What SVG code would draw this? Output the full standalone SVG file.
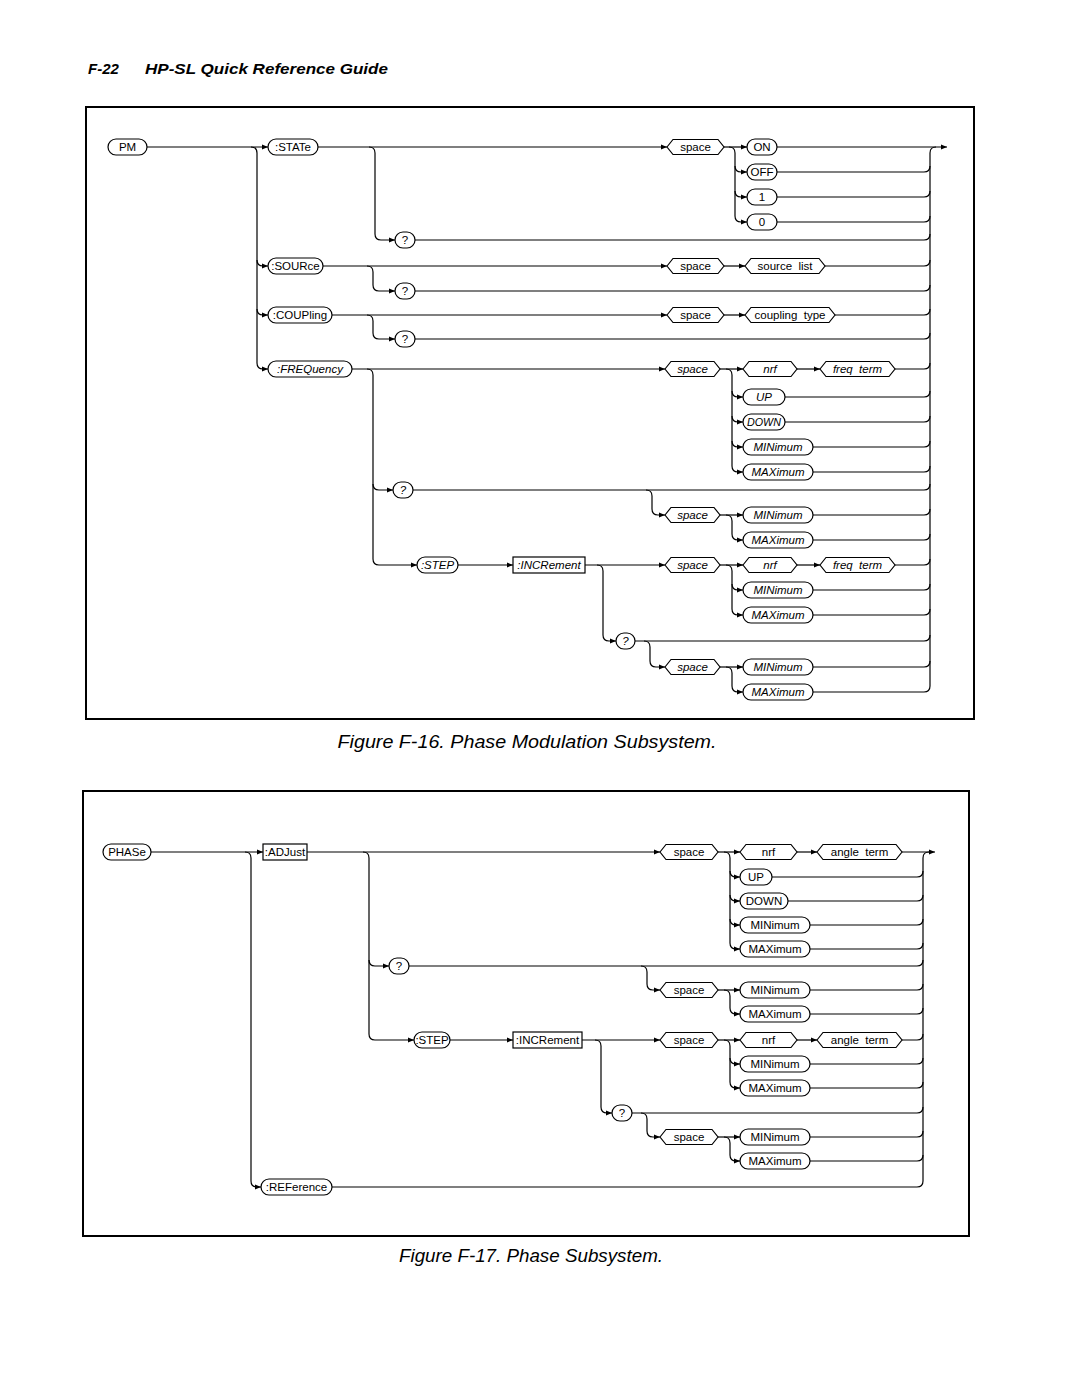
<svg xmlns="http://www.w3.org/2000/svg" width="1080" height="1397" viewBox="0 0 1080 1397">
<style>
.ln{fill:none;stroke:#000;stroke-width:1.2}
.nd{fill:#fff;stroke:#000;stroke-width:1.2}
.fr{fill:none;stroke:#000;stroke-width:2}
text{font-family:"Liberation Sans",Arial,sans-serif;fill:#000}
.t{font-size:11.5px;text-anchor:middle}
.i{font-style:italic}
.cap{font-size:18px;font-style:italic;text-anchor:middle}
.hd{font-size:15px;font-weight:bold;font-style:italic}
</style>
<defs>
<marker id="a" markerWidth="6" markerHeight="6" refX="6" refY="3" orient="auto" markerUnits="userSpaceOnUse"><path d="M0,0.6 L6,3 L0,5.4z" fill="#000"/></marker>
</defs>
<rect width="1080" height="1397" fill="#fff"/>
<text class="hd" x="88" y="74">F-22</text>
<text class="hd" x="145" y="74" textLength="243" lengthAdjust="spacingAndGlyphs">HP-SL Quick Reference Guide</text>
<rect class="fr" x="86" y="107" width="888" height="612"/>
<text class="cap" x="527" y="748" textLength="379" lengthAdjust="spacingAndGlyphs">Figure F-16. Phase Modulation Subsystem.</text>
<rect class="fr" x="83" y="791" width="886" height="445"/>
<text class="cap" x="531" y="1262" textLength="264" lengthAdjust="spacingAndGlyphs">Figure F-17. Phase Subsystem.</text>

<g id="connectors" class="ln">
<!-- Figure 1 -->
<path d="M147,147 L268,147" marker-end="url(#a)"/>
<path d="M251,147 Q257,147 257,153 L257,363 Q257,369 263,369 L268,369" marker-end="url(#a)"/>
<path d="M257,260 Q257,266 263,266 L268,266" marker-end="url(#a)"/>
<path d="M257,309 Q257,315 263,315 L268,315" marker-end="url(#a)"/>
<path d="M318,147 L667,147" marker-end="url(#a)"/>
<path d="M369,147 Q375,147 375,153 L375,234 Q375,240 381,240 L395,240" marker-end="url(#a)"/>
<path d="M415,240 L924,240 Q930,240 930,234"/>
<path d="M724,147 L747,147" marker-end="url(#a)"/>
<path d="M777,147 L947,147" marker-end="url(#a)"/>
<path d="M729,147 Q735,147 735,153 L735,216 Q735,222 741,222 L747,222" marker-end="url(#a)"/>
<path d="M735,166 Q735,172 741,172 L747,172" marker-end="url(#a)"/>
<path d="M735,191 Q735,197 741,197 L747,197" marker-end="url(#a)"/>
<path d="M777,172 L924,172 Q930,172 930,166"/>
<path d="M777,197 L924,197 Q930,197 930,191"/>
<path d="M777,222 L924,222 Q930,222 930,216"/>
<path d="M930,686 L930,153 Q930,147 936,147"/>
<path d="M323,266 L667,266" marker-end="url(#a)"/>
<path d="M367,266 Q373,266 373,272 L373,285 Q373,291 379,291 L395,291" marker-end="url(#a)"/>
<path d="M415,291 L924,291 Q930,291 930,285"/>
<path d="M724,266 L745,266" marker-end="url(#a)"/>
<path d="M825,266 L924,266 Q930,266 930,260"/>
<path d="M332,315 L667,315" marker-end="url(#a)"/>
<path d="M367,315 Q373,315 373,321 L373,333 Q373,339 379,339 L395,339" marker-end="url(#a)"/>
<path d="M415,339 L924,339 Q930,339 930,333"/>
<path d="M724,315 L745,315" marker-end="url(#a)"/>
<path d="M835,315 L924,315 Q930,315 930,309"/>
<path d="M352,369 L665,369" marker-end="url(#a)"/>
<path d="M367,369 Q373,369 373,375 L373,559 Q373,565 379,565 L417,565" marker-end="url(#a)"/>
<path d="M373,484 Q373,490 379,490 L393,490" marker-end="url(#a)"/>
<path d="M720,369 L743,369" marker-end="url(#a)"/>
<path d="M797,369 L820,369" marker-end="url(#a)"/>
<path d="M895,369 L924,369 Q930,369 930,363"/>
<path d="M726,369 Q732,369 732,375 L732,466 Q732,472 738,472 L743,472" marker-end="url(#a)"/>
<path d="M732,391 Q732,397 738,397 L743,397" marker-end="url(#a)"/>
<path d="M732,416 Q732,422 738,422 L743,422" marker-end="url(#a)"/>
<path d="M732,441 Q732,447 738,447 L743,447" marker-end="url(#a)"/>
<path d="M785,397 L924,397 Q930,397 930,391"/>
<path d="M785,422 L924,422 Q930,422 930,416"/>
<path d="M813,447 L924,447 Q930,447 930,441"/>
<path d="M813,472 L924,472 Q930,472 930,466"/>
<path d="M413,490 L924,490 Q930,490 930,484"/>
<path d="M646,490 Q652,490 652,496 L652,509 Q652,515 658,515 L665,515" marker-end="url(#a)"/>
<path d="M720,515 L743,515" marker-end="url(#a)"/>
<path d="M726,515 Q732,515 732,521 L732,534 Q732,540 738,540 L743,540" marker-end="url(#a)"/>
<path d="M813,515 L924,515 Q930,515 930,509"/>
<path d="M813,540 L924,540 Q930,540 930,534"/>
<path d="M458,565 L513,565" marker-end="url(#a)"/>
<path d="M585,565 L665,565" marker-end="url(#a)"/>
<path d="M597,565 Q603,565 603,571 L603,635 Q603,641 609,641 L616,641" marker-end="url(#a)"/>
<path d="M720,565 L743,565" marker-end="url(#a)"/>
<path d="M797,565 L820,565" marker-end="url(#a)"/>
<path d="M895,565 L924,565 Q930,565 930,559"/>
<path d="M726,565 Q732,565 732,571 L732,609 Q732,615 738,615 L743,615" marker-end="url(#a)"/>
<path d="M732,584 Q732,590 738,590 L743,590" marker-end="url(#a)"/>
<path d="M813,590 L924,590 Q930,590 930,584"/>
<path d="M813,615 L924,615 Q930,615 930,609"/>
<path d="M635,641 L924,641 Q930,641 930,635"/>
<path d="M644,641 Q650,641 650,647 L650,661 Q650,667 656,667 L665,667" marker-end="url(#a)"/>
<path d="M720,667 L743,667" marker-end="url(#a)"/>
<path d="M726,667 Q732,667 732,673 L732,686 Q732,692 738,692 L743,692" marker-end="url(#a)"/>
<path d="M813,667 L924,667 Q930,667 930,661"/>
<path d="M813,692 L924,692 Q930,692 930,686"/>
<!-- Figure 2 -->
<path d="M151,852 L263,852" marker-end="url(#a)"/>
<path d="M245,852 Q251,852 251,858 L251,1181 Q251,1187 257,1187 L261,1187" marker-end="url(#a)"/>
<path d="M332,1187 L917,1187 Q923,1187 923,1181"/>
<path d="M923,1181 L923,858 Q923,852 929,852"/>
<path d="M902,852 L935,852" marker-end="url(#a)"/>
<path d="M307,852 L660,852" marker-end="url(#a)"/>
<path d="M363,852 Q369,852 369,858 L369,1034 Q369,1040 375,1040 L414,1040" marker-end="url(#a)"/>
<path d="M369,960 Q369,966 375,966 L389,966" marker-end="url(#a)"/>
<path d="M718,852 L740,852" marker-end="url(#a)"/>
<path d="M797,852 L817,852" marker-end="url(#a)"/>
<path d="M724,852 Q730,852 730,858 L730,943 Q730,949 736,949 L740,949" marker-end="url(#a)"/>
<path d="M730,871 Q730,877 736,877 L740,877" marker-end="url(#a)"/>
<path d="M730,895 Q730,901 736,901 L740,901" marker-end="url(#a)"/>
<path d="M730,919 Q730,925 736,925 L740,925" marker-end="url(#a)"/>
<path d="M772,877 L917,877 Q923,877 923,871"/>
<path d="M788,901 L917,901 Q923,901 923,895"/>
<path d="M810,925 L917,925 Q923,925 923,919"/>
<path d="M810,949 L917,949 Q923,949 923,943"/>
<path d="M409,966 L917,966 Q923,966 923,960"/>
<path d="M641,966 Q647,966 647,972 L647,984 Q647,990 653,990 L660,990" marker-end="url(#a)"/>
<path d="M718,990 L740,990" marker-end="url(#a)"/>
<path d="M724,990 Q730,990 730,996 L730,1008 Q730,1014 736,1014 L740,1014" marker-end="url(#a)"/>
<path d="M810,990 L917,990 Q923,990 923,984"/>
<path d="M810,1014 L917,1014 Q923,1014 923,1008"/>
<path d="M450,1040 L513,1040" marker-end="url(#a)"/>
<path d="M582,1040 L660,1040" marker-end="url(#a)"/>
<path d="M595,1040 Q601,1040 601,1046 L601,1107 Q601,1113 607,1113 L612,1113" marker-end="url(#a)"/>
<path d="M718,1040 L740,1040" marker-end="url(#a)"/>
<path d="M797,1040 L817,1040" marker-end="url(#a)"/>
<path d="M902,1040 L917,1040 Q923,1040 923,1034"/>
<path d="M724,1040 Q730,1040 730,1046 L730,1082 Q730,1088 736,1088 L740,1088" marker-end="url(#a)"/>
<path d="M730,1058 Q730,1064 736,1064 L740,1064" marker-end="url(#a)"/>
<path d="M810,1064 L917,1064 Q923,1064 923,1058"/>
<path d="M810,1088 L917,1088 Q923,1088 923,1082"/>
<path d="M632,1113 L917,1113 Q923,1113 923,1107"/>
<path d="M641,1113 Q647,1113 647,1119 L647,1131 Q647,1137 653,1137 L660,1137" marker-end="url(#a)"/>
<path d="M718,1137 L740,1137" marker-end="url(#a)"/>
<path d="M724,1137 Q730,1137 730,1143 L730,1155 Q730,1161 736,1161 L740,1161" marker-end="url(#a)"/>
<path d="M810,1137 L917,1137 Q923,1137 923,1131"/>
<path d="M810,1161 L917,1161 Q923,1161 923,1155"/>
</g>

<!-- Figure 1 nodes -->
<g id="f1-pm"><rect class="nd" x="108" y="139" width="39" height="16" rx="8"/><text class="t" x="127.5" y="151">PM</text></g>
<g id="f1-state"><rect class="nd" x="268" y="139" width="50" height="16" rx="8"/><text class="t" x="293" y="151">:STATe</text></g>
<g id="f1-state-q"><rect class="nd" x="395" y="232" width="20" height="16" rx="8"/><text class="t" x="405" y="244">?</text></g>
<g id="f1-state-space"><polygon class="nd" points="667,147 673,139.5 718,139.5 724,147 718,154.5 673,154.5"/><text class="t" x="695.5" y="151">space</text></g>
<g id="f1-on"><rect class="nd" x="747" y="139" width="30" height="16" rx="8"/><text class="t" x="762" y="151">ON</text></g>
<g id="f1-off"><rect class="nd" x="747" y="164" width="30" height="16" rx="8"/><text class="t" x="762" y="176">OFF</text></g>
<g id="f1-one"><rect class="nd" x="747" y="189" width="30" height="16" rx="8"/><text class="t" x="762" y="201">1</text></g>
<g id="f1-zero"><rect class="nd" x="747" y="214" width="30" height="16" rx="8"/><text class="t" x="762" y="226">0</text></g>

<g id="f1-source"><rect class="nd" x="268" y="258" width="55" height="16" rx="8"/><text class="t" x="295.5" y="270">:SOURce</text></g>
<g id="f1-source-q"><rect class="nd" x="395" y="283" width="20" height="16" rx="8"/><text class="t" x="405" y="295">?</text></g>
<g id="f1-source-space"><polygon class="nd" points="667,266 673,258.5 718,258.5 724,266 718,273.5 673,273.5"/><text class="t" x="695.5" y="270">space</text></g>
<g id="f1-source-list"><polygon class="nd" points="745,266 751,258.5 819,258.5 825,266 819,273.5 751,273.5"/><text class="t" x="785" y="270" xml:space="preserve">source  list</text></g>

<g id="f1-coupling"><rect class="nd" x="268" y="307" width="64" height="16" rx="8"/><text class="t" x="300" y="319">:COUPling</text></g>
<g id="f1-coupling-q"><rect class="nd" x="395" y="331" width="20" height="16" rx="8"/><text class="t" x="405" y="343">?</text></g>
<g id="f1-coupling-space"><polygon class="nd" points="667,315 673,307.5 718,307.5 724,315 718,322.5 673,322.5"/><text class="t" x="695.5" y="319">space</text></g>
<g id="f1-coupling-type"><polygon class="nd" points="745,315 751,307.5 829,307.5 835,315 829,322.5 751,322.5"/><text class="t" x="790" y="319" xml:space="preserve">coupling  type</text></g>

<g id="f1-freq"><rect class="nd" x="268" y="361" width="84" height="16" rx="8"/><text class="t i" x="310" y="373">:FREQuency</text></g>
<g id="f1-freq-space"><polygon class="nd" points="665,369 671,361.5 714,361.5 720,369 714,376.5 671,376.5"/><text class="t i" x="692.5" y="373">space</text></g>
<g id="f1-freq-nrf"><polygon class="nd" points="743,369 749,361.5 791,361.5 797,369 791,376.5 749,376.5"/><text class="t i" x="770" y="373">nrf</text></g>
<g id="f1-freq-term"><polygon class="nd" points="820,369 826,361.5 889,361.5 895,369 889,376.5 826,376.5"/><text class="t i" x="857.5" y="373" xml:space="preserve">freq  term</text></g>
<g id="f1-up"><rect class="nd" x="743" y="389" width="42" height="16" rx="8"/><text class="t i" x="764" y="401">UP</text></g>
<g id="f1-down"><rect class="nd" x="743" y="414" width="42" height="16" rx="8"/><text class="t i" x="764" y="426" textLength="34" lengthAdjust="spacingAndGlyphs">DOWN</text></g>
<g id="f1-min1"><rect class="nd" x="743" y="439" width="70" height="16" rx="8"/><text class="t i" x="778" y="451">MINimum</text></g>
<g id="f1-max1"><rect class="nd" x="743" y="464" width="70" height="16" rx="8"/><text class="t i" x="778" y="476">MAXimum</text></g>
<g id="f1-freq-q"><rect class="nd" x="393" y="482" width="20" height="16" rx="8"/><text class="t i" x="403" y="494">?</text></g>
<g id="f1-freq-q-space"><polygon class="nd" points="665,515 671,507.5 714,507.5 720,515 714,522.5 671,522.5"/><text class="t i" x="692.5" y="519">space</text></g>
<g id="f1-min2"><rect class="nd" x="743" y="507" width="70" height="16" rx="8"/><text class="t i" x="778" y="519">MINimum</text></g>
<g id="f1-max2"><rect class="nd" x="743" y="532" width="70" height="16" rx="8"/><text class="t i" x="778" y="544">MAXimum</text></g>
<g id="f1-step"><rect class="nd" x="417" y="557" width="41" height="16" rx="8"/><text class="t i" x="437.5" y="569">:STEP</text></g>
<g id="f1-incr"><rect class="nd" x="513" y="557" width="72" height="16"/><text class="t i" x="549" y="569">:INCRement</text></g>
<g id="f1-step-space"><polygon class="nd" points="665,565 671,557.5 714,557.5 720,565 714,572.5 671,572.5"/><text class="t i" x="692.5" y="569">space</text></g>
<g id="f1-step-nrf"><polygon class="nd" points="743,565 749,557.5 791,557.5 797,565 791,572.5 749,572.5"/><text class="t i" x="770" y="569">nrf</text></g>
<g id="f1-step-term"><polygon class="nd" points="820,565 826,557.5 889,557.5 895,565 889,572.5 826,572.5"/><text class="t i" x="857.5" y="569" xml:space="preserve">freq  term</text></g>
<g id="f1-min3"><rect class="nd" x="743" y="582" width="70" height="16" rx="8"/><text class="t i" x="778" y="594">MINimum</text></g>
<g id="f1-max3"><rect class="nd" x="743" y="607" width="70" height="16" rx="8"/><text class="t i" x="778" y="619">MAXimum</text></g>
<g id="f1-step-q"><rect class="nd" x="616" y="633" width="19" height="16" rx="8"/><text class="t i" x="625.5" y="645">?</text></g>
<g id="f1-step-q-space"><polygon class="nd" points="665,667 671,659.5 714,659.5 720,667 714,674.5 671,674.5"/><text class="t i" x="692.5" y="671">space</text></g>
<g id="f1-min4"><rect class="nd" x="743" y="659" width="70" height="16" rx="8"/><text class="t i" x="778" y="671">MINimum</text></g>
<g id="f1-max4"><rect class="nd" x="743" y="684" width="70" height="16" rx="8"/><text class="t i" x="778" y="696">MAXimum</text></g>

<!-- Figure 2 nodes -->
<g id="f2-phase"><rect class="nd" x="103" y="844" width="48" height="16" rx="8"/><text class="t" x="127" y="856">PHASe</text></g>
<g id="f2-adjust"><rect class="nd" x="263" y="844" width="44" height="16"/><text class="t" x="285" y="856">:ADJust</text></g>
<g id="f2-reference"><rect class="nd" x="261" y="1179" width="71" height="16" rx="8"/><text class="t" x="296.5" y="1191">:REFerence</text></g>
<g id="f2-adj-space"><polygon class="nd" points="660,852 666,844.5 712,844.5 718,852 712,859.5 666,859.5"/><text class="t" x="689" y="856">space</text></g>
<g id="f2-adj-nrf"><polygon class="nd" points="740,852 746,844.5 791,844.5 797,852 791,859.5 746,859.5"/><text class="t" x="768.5" y="856">nrf</text></g>
<g id="f2-adj-term"><polygon class="nd" points="817,852 823,844.5 896,844.5 902,852 896,859.5 823,859.5"/><text class="t" x="859.5" y="856" xml:space="preserve">angle  term</text></g>
<g id="f2-up"><rect class="nd" x="740" y="869" width="32" height="16" rx="8"/><text class="t" x="756" y="881">UP</text></g>
<g id="f2-down"><rect class="nd" x="740" y="893" width="48" height="16" rx="8"/><text class="t" x="764" y="905">DOWN</text></g>
<g id="f2-min1"><rect class="nd" x="740" y="917" width="70" height="16" rx="8"/><text class="t" x="775" y="929">MINimum</text></g>
<g id="f2-max1"><rect class="nd" x="740" y="941" width="70" height="16" rx="8"/><text class="t" x="775" y="953">MAXimum</text></g>
<g id="f2-adj-q"><rect class="nd" x="389" y="958" width="20" height="16" rx="8"/><text class="t" x="399" y="970">?</text></g>
<g id="f2-q-space"><polygon class="nd" points="660,990 666,982.5 712,982.5 718,990 712,997.5 666,997.5"/><text class="t" x="689" y="994">space</text></g>
<g id="f2-min2"><rect class="nd" x="740" y="982" width="70" height="16" rx="8"/><text class="t" x="775" y="994">MINimum</text></g>
<g id="f2-max2"><rect class="nd" x="740" y="1006" width="70" height="16" rx="8"/><text class="t" x="775" y="1018">MAXimum</text></g>
<g id="f2-step"><rect class="nd" x="414" y="1032" width="36" height="16" rx="8"/><text class="t" x="432" y="1044">:STEP</text></g>
<g id="f2-incr"><rect class="nd" x="513" y="1032" width="69" height="16"/><text class="t" x="547.5" y="1044">:INCRement</text></g>
<g id="f2-step-space"><polygon class="nd" points="660,1040 666,1032.5 712,1032.5 718,1040 712,1047.5 666,1047.5"/><text class="t" x="689" y="1044">space</text></g>
<g id="f2-step-nrf"><polygon class="nd" points="740,1040 746,1032.5 791,1032.5 797,1040 791,1047.5 746,1047.5"/><text class="t" x="768.5" y="1044">nrf</text></g>
<g id="f2-step-term"><polygon class="nd" points="817,1040 823,1032.5 896,1032.5 902,1040 896,1047.5 823,1047.5"/><text class="t" x="859.5" y="1044" xml:space="preserve">angle  term</text></g>
<g id="f2-min3"><rect class="nd" x="740" y="1056" width="70" height="16" rx="8"/><text class="t" x="775" y="1068">MINimum</text></g>
<g id="f2-max3"><rect class="nd" x="740" y="1080" width="70" height="16" rx="8"/><text class="t" x="775" y="1092">MAXimum</text></g>
<g id="f2-step-q"><rect class="nd" x="612" y="1105" width="20" height="16" rx="8"/><text class="t" x="622" y="1117">?</text></g>
<g id="f2-step-q-space"><polygon class="nd" points="660,1137 666,1129.5 712,1129.5 718,1137 712,1144.5 666,1144.5"/><text class="t" x="689" y="1141">space</text></g>
<g id="f2-min4"><rect class="nd" x="740" y="1129" width="70" height="16" rx="8"/><text class="t" x="775" y="1141">MINimum</text></g>
<g id="f2-max4"><rect class="nd" x="740" y="1153" width="70" height="16" rx="8"/><text class="t" x="775" y="1165">MAXimum</text></g>
</svg>
